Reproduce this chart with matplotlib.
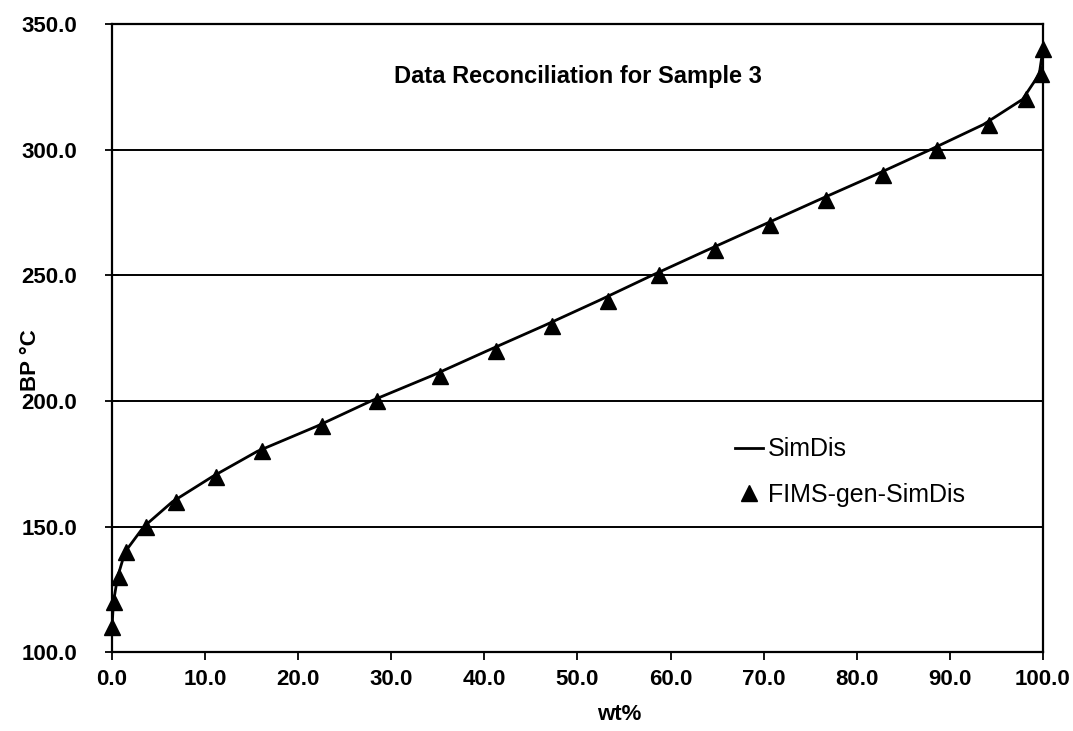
import matplotlib
matplotlib.use("Agg")
import matplotlib.pyplot as plt

plt.rcParams["font.family"] = ["Liberation Sans", "DejaVu Sans"]

# SimDis curve (boiling point vs. cumulative wt%)
simdis_wt = [0.0, 0.15, 0.6, 1.4, 3.4, 6.5, 10.8, 15.6, 22.0, 27.8, 34.3, 40.3,
             46.4, 52.3, 58.0, 63.9, 69.9, 75.9, 82.0, 87.9, 93.6, 97.8, 99.6, 100.0]
simdis_bp = [110, 120, 130, 140, 150, 160, 170, 180, 190, 200, 210, 220,
             230, 240, 250, 260, 270, 280, 290, 300, 310, 320, 330, 340]

# FIMS generated SimDis points
fims_wt = [0.0, 0.2, 0.7, 1.5, 3.6, 6.9, 11.2, 16.1, 22.6, 28.5, 35.2, 41.2,
           47.3, 53.3, 58.8, 64.8, 70.7, 76.7, 82.8, 88.6, 94.2, 98.2, 99.8, 100.0]
fims_bp = [110, 120, 130, 140, 150, 160, 170, 180, 190, 200, 210, 220,
           230, 240, 250, 260, 270, 280, 290, 300, 310, 320, 330, 340]

x_ticks = [0, 10, 20, 30, 40, 50, 60, 70, 80, 90, 100]
y_ticks = [100, 150, 200, 250, 300, 350]

fig = plt.figure(figsize=(10.73, 7.31), dpi=100)
ax = fig.add_axes([0.1044, 0.1074, 0.8676, 0.8598])

for y in y_ticks[1:-1]:
    ax.axhline(y, color="black", linewidth=1.4, zorder=1)

ax.plot(simdis_wt, simdis_bp, color="black", linewidth=2.0, label="SimDis", zorder=2)
ax.plot(fims_wt, fims_bp, linestyle="none", marker="^", markersize=11,
        color="black", label="FIMS-gen-SimDis", zorder=3, clip_on=False)

ax.set_xlim(0, 100)
ax.set_ylim(100, 350)
ax.set_xticks(x_ticks)
ax.set_yticks(y_ticks)
ax.set_xticklabels([f"{v:.1f}" for v in x_ticks], fontsize=16, fontweight="bold")
ax.set_yticklabels([f"{v:.1f}" for v in y_ticks], fontsize=16, fontweight="bold")
ax.tick_params(axis="x", direction="out", length=6, width=1.3, pad=6)
ax.tick_params(axis="y", direction="inout", length=10, width=1.3, pad=20)

for side in ["left", "right", "top", "bottom"]:
    ax.spines[side].set_linewidth(1.6)
    ax.spines[side].set_color("black")

ax.set_xlabel("wt%", fontsize=16, fontweight="bold")
ax.xaxis.set_label_coords(0.545, -0.082)
ax.set_ylabel("BP \u00b0C", fontsize=16, fontweight="bold")
ax.yaxis.set_label_coords(-0.076, 0.465)

ax.text(50, 329, "Data Reconciliation for Sample 3", fontsize=17,
        fontweight="bold", ha="center", va="center")

ax.legend(loc="center left", bbox_to_anchor=(0.658, 0.287), frameon=False,
          fontsize=18, handlelength=1.12, handletextpad=0.2, labelspacing=0.85,
          borderaxespad=0)

fig.savefig("out.png", dpi=100)
